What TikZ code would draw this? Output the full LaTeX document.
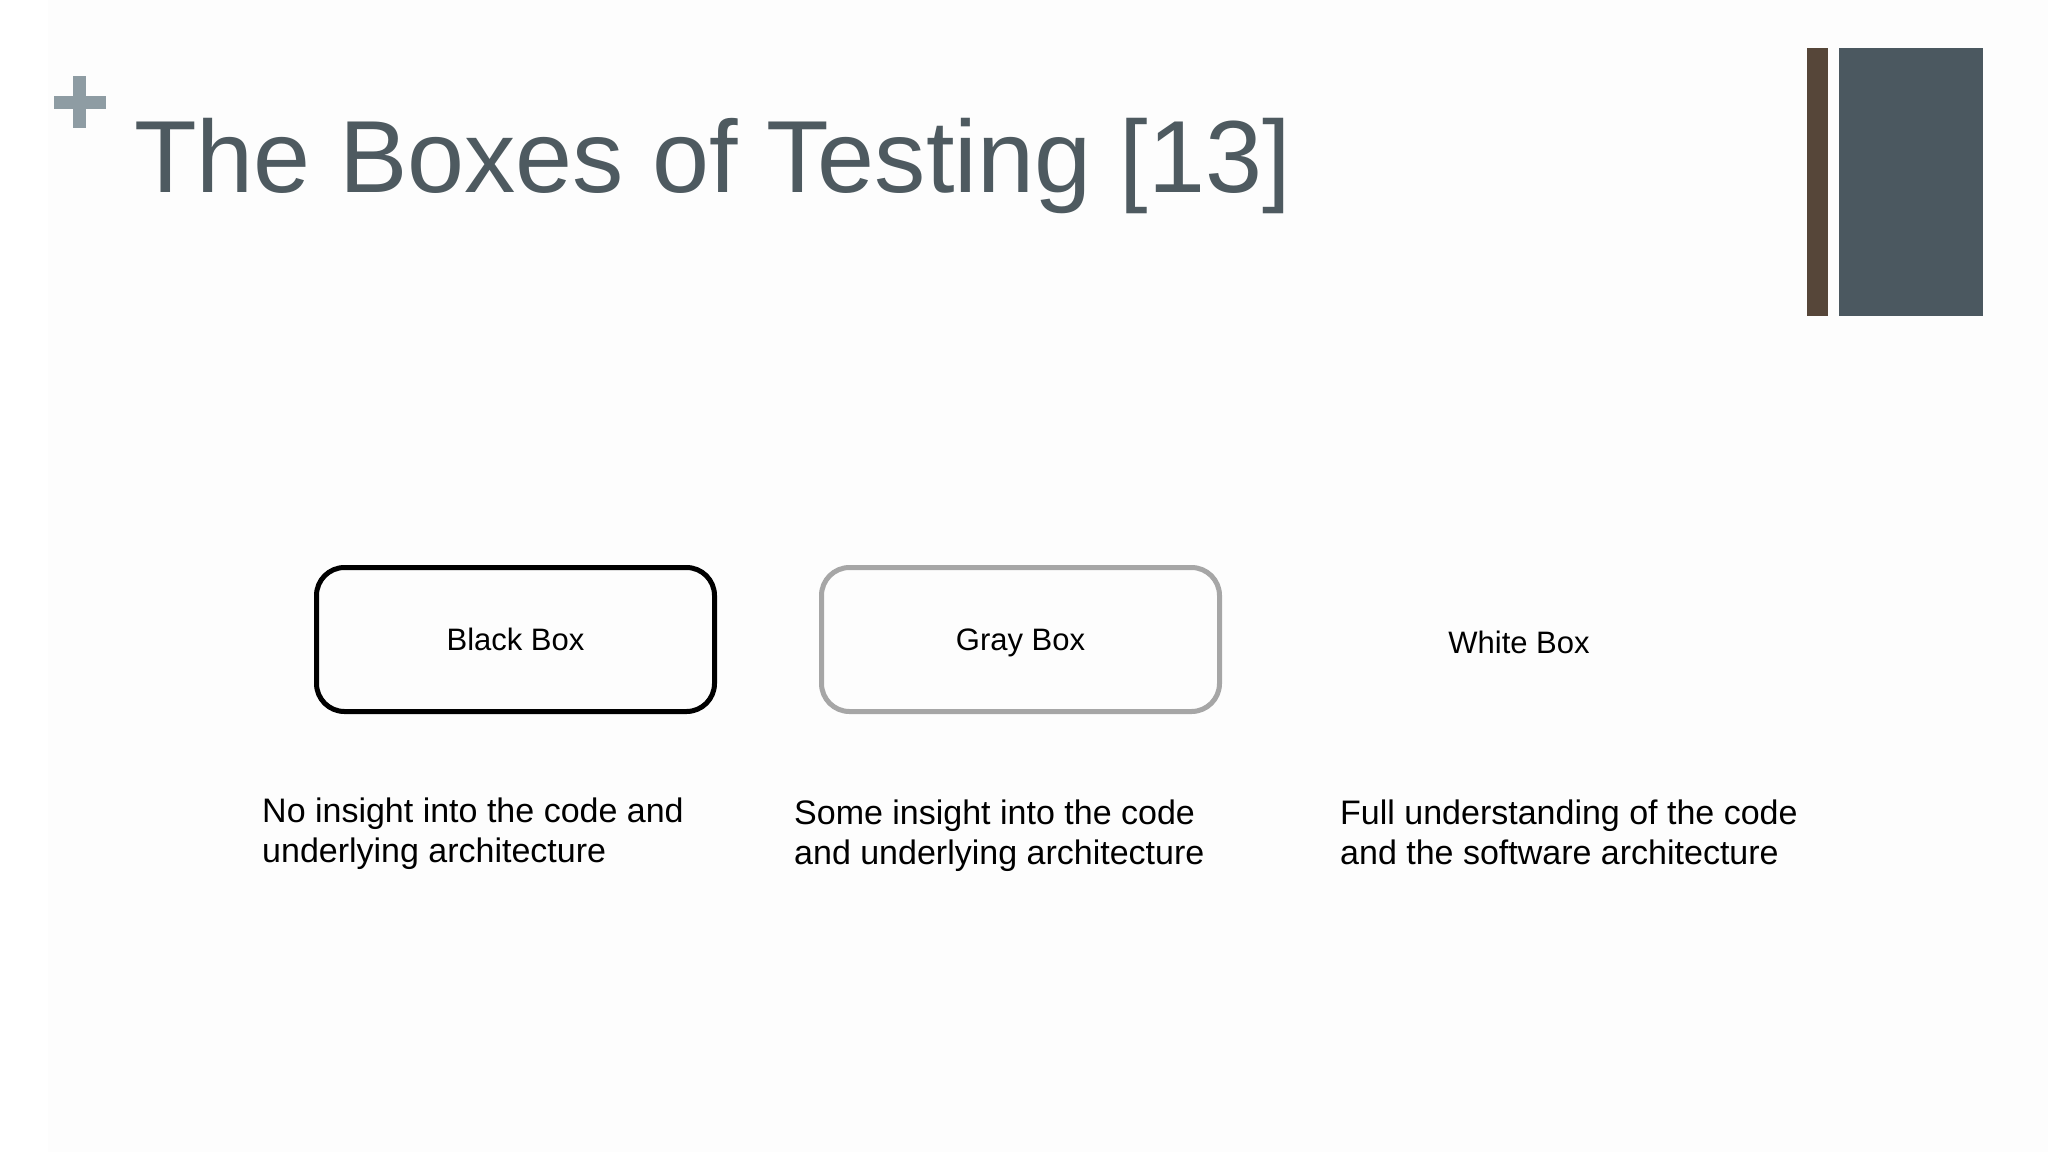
\documentclass[tikz,border=0pt]{standalone}
\usepackage{fontspec}
\setmainfont{Liberation Sans}
\definecolor{titlecol}{HTML}{4E5A60}
\definecolor{pluscol}{HTML}{8E9CA3}
\definecolor{barbrown}{HTML}{564639}
\definecolor{barslate}{HTML}{4B5860}
\definecolor{boxgray}{HTML}{A6A6A6}
\definecolor{slidebg}{HTML}{FDFDFD}
\tikzset{
  boxnode/.style={rounded corners=28pt, line width=5pt, minimum width=398pt, minimum height=144pt,
    inner sep=0pt, font=\fontsize{31}{36}\selectfont, text height=22.2pt, text depth=0pt},
  desc/.style={anchor=base west, align=left, inner sep=0pt, font=\fontsize{34}{40}\selectfont},
}
\begin{document}
\begin{tikzpicture}[x=1pt,y=-1pt]
\useasboundingbox (0,0) rectangle (2048,1152);
\fill[white] (0,0) rectangle (2048,1152);
\fill[slidebg] (48,0) rectangle (2048,1152);
% plus sign
\fill[pluscol] (54,96) rectangle (106,109);
\fill[pluscol] (73,76) rectangle (86,128);
% title
\node[anchor=base west, inner sep=0pt, text=titlecol, font=\fontsize{102.5}{120}\selectfont] (title) at (134,192) {The Boxes of Testing [13]};
% bars
\fill[barbrown] (1807,48) rectangle (1828,316);
\fill[barslate] (1839,48) rectangle (1983,316);
% boxes
\node[boxnode, draw=black] (black) at (515.5,639.5) {Black Box};
\node[boxnode, draw=boxgray] (gray) at (1020.5,639.5) {Gray Box};
\node[boxnode, draw=none] (white) at (1519,642) {White Box};
% descriptions (anchor is the baseline of the last line)
\node[desc] (dblack) at (262,862) {No insight into the code and\\underlying architecture};
\node[desc] (dgray) at (794,864) {Some insight into the code\\and underlying architecture};
\node[desc] (dwhite) at (1340,864) {Full understanding of the code\\and the software architecture};
\end{tikzpicture}
\end{document}
